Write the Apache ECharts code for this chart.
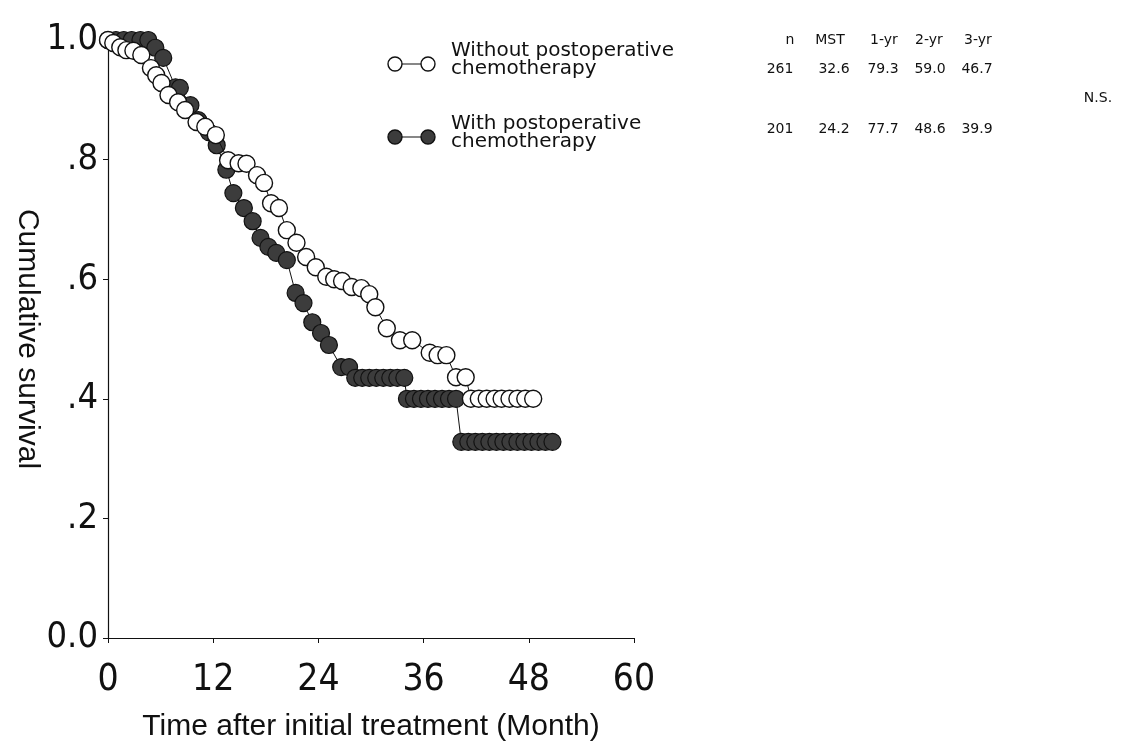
<!DOCTYPE html>
<html>
<head>
<meta charset="utf-8">
<script src="https://cdn.jsdelivr.net/npm/echarts@6/dist/echarts.min.js"></script>
<style>
  html, body { margin: 0; padding: 0; background: #fff; }
  #chart { width: 1136px; height: 744px; }
</style>
</head>
<body>
<div id="chart"></div>
<script>
// survival without postoperative chemotherapy (open circles)
const withoutMonths = [0, 0.6, 1.4, 2.1, 2.9, 3.8, 4.9, 5.5, 6.1, 6.9, 8.0, 8.8, 10.1, 11.1, 12.3,
  13.7, 14.9, 15.8, 17.0, 17.8, 18.6, 19.5, 20.4, 21.5, 22.6, 23.7, 24.9, 25.8, 26.7, 27.8,
  28.9, 29.8, 30.5, 31.8, 33.3, 34.7, 36.7, 37.6, 38.6, 39.7, 40.8,
  41.4, 42.3, 43.2, 44.1, 44.9, 45.8, 46.7, 47.6, 48.5];
const withoutSurv = [1.0, 0.995, 0.988, 0.983, 0.982, 0.975, 0.953, 0.941, 0.928, 0.908, 0.896, 0.883, 0.863, 0.855, 0.841,
  0.799, 0.794, 0.793, 0.774, 0.761, 0.727, 0.719, 0.682, 0.661, 0.637, 0.620, 0.604, 0.600, 0.597, 0.587,
  0.585, 0.575, 0.553, 0.518, 0.498, 0.498, 0.477, 0.473, 0.473, 0.436, 0.436,
  0.400, 0.400, 0.400, 0.400, 0.400, 0.400, 0.400, 0.400, 0.400];

// survival with postoperative chemotherapy (filled circles)
const withMonths = [0, 0.9, 1.8, 2.7, 3.7, 4.6, 5.4, 6.3, 7.7, 8.2, 9.4, 10.3, 11.5, 12.4,
  13.5, 14.3, 15.5, 16.5, 17.4, 18.3, 19.2, 20.4, 21.4, 22.3, 23.3, 24.3, 25.2, 26.6, 27.5,
  28.2, 29.0, 29.8, 30.6, 31.4, 32.2, 33.0, 33.8,
  34.1, 34.9, 35.7, 36.5, 37.3, 38.1, 38.9, 39.7,
  40.3, 41.1, 41.9, 42.7, 43.5, 44.3, 45.1, 45.9, 46.7, 47.5, 48.3, 49.1, 49.9, 50.7];
const withSurv = [1.0, 1.0, 1.0, 1.0, 1.0, 1.0, 0.987, 0.970, 0.921, 0.920, 0.891, 0.866, 0.846, 0.824,
  0.783, 0.744, 0.719, 0.697, 0.669, 0.654, 0.644, 0.632, 0.577, 0.560, 0.528, 0.510, 0.490, 0.453, 0.453,
  0.435, 0.435, 0.435, 0.435, 0.435, 0.435, 0.435, 0.435,
  0.400, 0.400, 0.400, 0.400, 0.400, 0.400, 0.400, 0.400,
  0.328, 0.328, 0.328, 0.328, 0.328, 0.328, 0.328, 0.328, 0.328, 0.328, 0.328, 0.328, 0.328, 0.328];

const xTicks = ['0', '12', '24', '36', '48', '60'];
const yTickLabels = {'0': '0.0', '0.2': '.2', '0.4': '.4', '0.6': '.6', '0.8': '.8', '1': '1.0'};

const legendNames = [['Without postoperative', 'chemotherapy'], ['With postoperative', 'chemotherapy']];
const tableHeader = ['n', 'MST', '1-yr', '2-yr', '3-yr'];
const rowWithout = ['261', '32.6', '79.3', '59.0', '46.7'];
const rowWith = ['201', '24.2', '77.7', '48.6', '39.9'];
const sigText = 'N.S.';

const tickFont = '"Liberation Sans Narrow", "DejaVu Sans Condensed", "Liberation Sans", sans-serif';
const textFont = '"DejaVu Sans", sans-serif';

const myChart = echarts.init(document.getElementById('chart'));

function zip(xs, ys) {
  return xs.map((x, i) => [x, ys[i]]);
}

// legend and table drawn as plain graphics
const graphic = [];
const legendY = [64, 137];
legendY.forEach((y, i) => {
  const filled = i === 1;
  graphic.push({ type: 'line', shape: { x1: 395, y1: y, x2: 428, y2: y }, style: { stroke: '#111', lineWidth: 1.2 } });
  [395, 428].forEach((cx) => {
    graphic.push({
      type: 'circle', shape: { cx, cy: y, r: 7 },
      style: { fill: filled ? '#3c3c3c' : '#fff', stroke: '#111', lineWidth: 1.4 },
    });
  });
  legendNames[i].forEach((t, j) => {
    graphic.push({
      type: 'text', left: 451, top: y - 23 + j * 18,
      style: { text: t, font: '20px ' + textFont, fill: '#111' },
    });
  });
});
const headX = [790, 830, 884, 929, 978];
const colX = [780, 834, 883, 930, 977];
tableHeader.forEach((t, i) => {
  graphic.push({ type: 'text', x: headX[i], y: 40, style: { text: t, font: '14px ' + textFont, fill: '#111', align: 'center', verticalAlign: 'middle' } });
});
[rowWithout, rowWith].forEach((row, r) => {
  row.forEach((t, i) => {
    graphic.push({ type: 'text', x: colX[i], y: r === 0 ? 69 : 129, style: { text: t, font: '14px ' + textFont, fill: '#111', align: 'center', verticalAlign: 'middle' } });
  });
});
graphic.push({ type: 'text', x: 1098, y: 98, style: { text: sigText, font: '14px ' + textFont, fill: '#111', align: 'center', verticalAlign: 'middle' } });

const option = {
  backgroundColor: '#fff',
  animation: false,
  grid: {
    left: 108,
    top: 40,
    width: 526,
    height: 598,
    outerBoundsMode: 'none',
  },
  xAxis: {
    type: 'value',
    min: 0,
    max: 60,
    interval: 12,
    offset: 4,
    name: 'Time after initial treatment (Month)',
    nameLocation: 'middle',
    nameGap: 70,
    nameTextStyle: { fontSize: 30, fontFamily: '"Liberation Sans", Arial, sans-serif', color: '#111' },
    axisLine: { lineStyle: { color: '#111', width: 1.2 } },
    axisTick: { length: 5, lineStyle: { color: '#111' } },
    axisLabel: {
      fontSize: 37, fontFamily: tickFont, color: '#111', margin: 20,
      formatter: (v) => xTicks[Math.round(v / 12)],
    },
    splitLine: { show: false },
  },
  yAxis: {
    type: 'value',
    min: 0,
    max: 1,
    interval: 0.2,
    name: 'Cumulative survival',
    nameLocation: 'middle',
    nameRotate: -90,
    nameGap: 58,
    nameTextStyle: { fontSize: 30, fontFamily: '"Liberation Sans", Arial, sans-serif', color: '#111' },
    axisLine: { show: true, lineStyle: { color: '#111', width: 1.2 } },
    axisTick: { show: true, length: 5, lineStyle: { color: '#111' } },
    axisLabel: {
      fontSize: 36, fontFamily: tickFont, color: '#111', margin: 10,
      formatter: (v) => yTickLabels[String(+v.toFixed(1))],
    },
    splitLine: { show: false },
  },
  series: [
    {
      name: 'Without postoperative chemotherapy',
      type: 'line',
      data: zip(withoutMonths, withoutSurv),
      symbol: 'circle',
      symbolSize: 17,
      showAllSymbol: true,
      lineStyle: { color: '#111', width: 1 },
      itemStyle: { color: '#fff', borderColor: '#111', borderWidth: 1.4 },
      z: 3,
    },
    {
      name: 'With postoperative chemotherapy',
      type: 'line',
      data: zip(withMonths, withSurv),
      symbol: 'circle',
      symbolSize: 17,
      showAllSymbol: true,
      lineStyle: { color: '#111', width: 1 },
      itemStyle: { color: '#3c3c3c', borderColor: '#111', borderWidth: 1.2 },
      z: 2,
    },
  ],
  graphic,
};

myChart.setOption(option);
window.onresize = () => myChart.resize();
</script>
</body>
</html>
